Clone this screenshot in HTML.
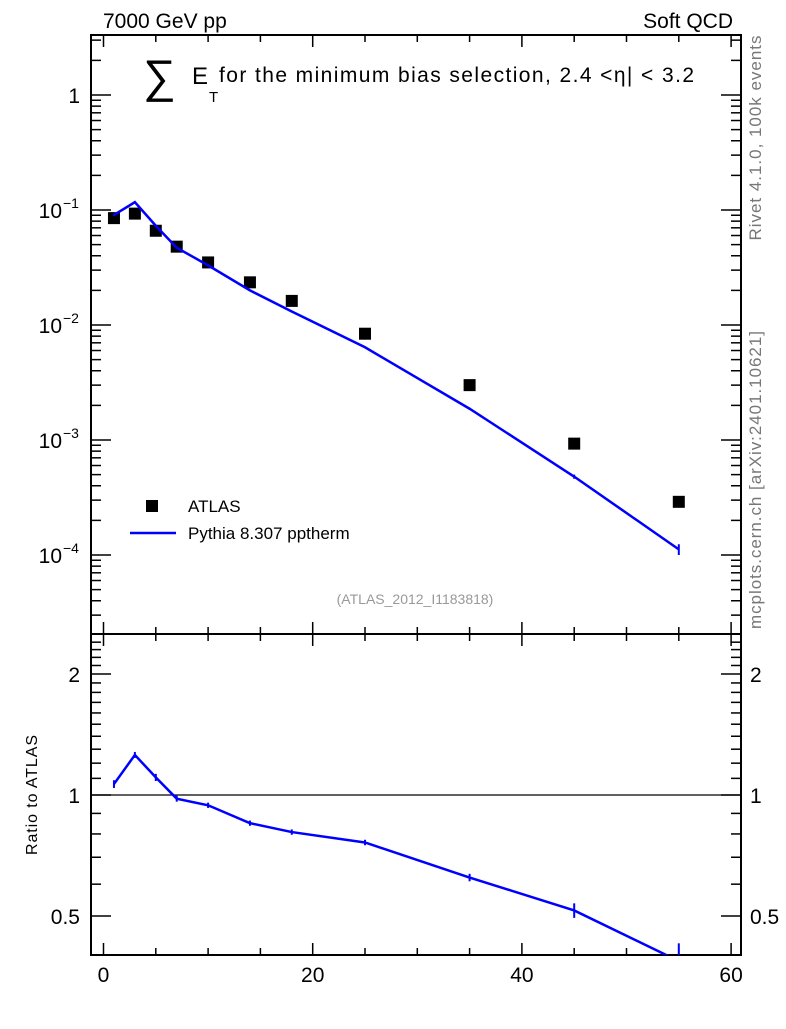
<!DOCTYPE html>
<html><head><meta charset="utf-8"><style>
body{margin:0;background:#fff;}
text{font-family:"Liberation Sans",sans-serif;}
</style></head><body>
<svg id="c" width="786" height="1024" xmlns="http://www.w3.org/2000/svg"></svg>
<script>
const xs=[1,3,5,7,10,14,18,25,35,45,55];
const atlas=[0.085,0.093,0.066,0.048,0.035,0.0235,0.0162,0.0084,0.0030,0.00093,0.00029];
const mc=[0.0905,0.117,0.073,0.047,0.033,0.0200,0.0131,0.0064,0.00187,0.00048,0.000112];
const mcErr=[0.002,0.002,0.0015,0.0008,0.0005,0.0003,0.0002,0.0001,0.00004,0.00002,0.000012];
const mainTicks=[1,0.1,0.01,0.001,0.0001];
const mainTickLabels=["1","10","10","10","10"];
const mainTickExp=["","−1","−2","−3","−4"];
const ratioTicks=[2,1,0.5];
const xTicks=[0,20,40,60];

const svg=document.getElementById('c');
const NS='http://www.w3.org/2000/svg';
function mk(t,a,p){const e=document.createElementNS(NS,t);for(const k in a)e.setAttribute(k,a[k]);(p||svg).appendChild(e);return e;}
const L=91,R=741,T=35,M=634,B=955;
const X=v=>103.5+v*10.46;
const Y=v=>95-Math.log10(v)*115;
const YR=v=>795-Math.log2(v)*121;

let f1=mk('rect',{x:L,y:T,width:R-L,height:M-T,fill:'none',stroke:'#000','stroke-width':2});

let f2=mk('rect',{x:L,y:M,width:R-L,height:B-M,fill:'none',stroke:'#000','stroke-width':2});


for(let v=0;v<=60;v+=5){const maj=v%20===0;const l=maj?12:7;
 for(const yb of [M,B]){mk('line',{x1:X(v),x2:X(v),y1:yb,y2:yb-l,stroke:'#000','stroke-width':1.5});}
 mk('line',{x1:X(v),x2:X(v),y1:T,y2:T+l,stroke:'#000','stroke-width':1.5});
 mk('line',{x1:X(v),x2:X(v),y1:M,y2:M+l,stroke:'#000','stroke-width':1.5});
}
xTicks.forEach(v=>{const t=mk('text',{x:X(v),y:982,'font-size':21,'text-anchor':'middle'});t.textContent=v;
 });

for(let d=-5;d<=0;d++){for(let m=1;m<=9;m++){const v=m*Math.pow(10,d);const y=Y(v);if(y<T||y>M)continue;const l=m===1?20:10;
 mk('line',{x1:L,x2:L+l,y1:y,y2:y,stroke:'#000','stroke-width':1.5});
 mk('line',{x1:R,x2:R-l,y1:y,y2:y,stroke:'#000','stroke-width':1.5});}}
mainTicks.forEach((v,i)=>{const t=mk('text',{x:i===0?80:62,y:Y(v)+8,'font-size':21,'text-anchor':'end'});t.textContent=mainTickLabels[i];
 
 if(mainTickExp[i]){const e=mk('text',{x:63,y:Y(v)-2,'font-size':14});e.textContent=mainTickExp[i];}});

for(let v=0.4;v<=2.5;v+=0.1){const y=YR(v);if(y<M||y>B)continue;const maj=Math.abs(v-0.5)<1e-6||Math.abs(v-1)<1e-6||Math.abs(v-2)<1e-6;const l=maj?20:10;
 mk('line',{x1:L,x2:L+l,y1:y,y2:y,stroke:'#000','stroke-width':1.5});
 mk('line',{x1:R,x2:R-l,y1:y,y2:y,stroke:'#000','stroke-width':1.5});}
ratioTicks.forEach(v=>{const a=mk('text',{x:80,y:YR(v)+8,'font-size':21,'text-anchor':'end'});a.textContent=v;
 
 const b=mk('text',{x:750,y:YR(v)+8,'font-size':21});b.textContent=v;});
mk('line',{x1:L,x2:R,y1:YR(1),y2:YR(1),stroke:'#000','stroke-width':1.2});

xs.forEach((x,i)=>{const r=mk('rect',{x:X(x)-6,y:Y(atlas[i])-6,width:12,height:12,fill:'#000'});
 });
let p=mk('polyline',{points:xs.map((x,i)=>X(x)+','+Y(mc[i])).join(' '),fill:'none',stroke:'#00f','stroke-width':2.5});

xs.forEach((x,i)=>{mk('line',{x1:X(x),x2:X(x),y1:Y(mc[i]+mcErr[i]),y2:Y(mc[i]-mcErr[i]),stroke:'#00f','stroke-width':2});});

const cp=mk('clipPath',{id:'rc'});mk('rect',{x:L,y:M,width:R-L,height:B-M},cp);
const rg=mk('g',{'clip-path':'url(#rc)'});
const ratio=xs.map((x,i)=>mc[i]/atlas[i]);
let rp=mk('polyline',{points:xs.map((x,i)=>X(x)+','+YR(ratio[i])).join(' '),fill:'none',stroke:'#00f','stroke-width':2.5},rg);

xs.forEach((x,i)=>{const e=mcErr[i]/atlas[i];mk('line',{x1:X(x),x2:X(x),y1:YR(ratio[i]+e),y2:YR(ratio[i]-e),stroke:'#00f','stroke-width':2},rg);});

function txt(s,a,name){const t=mk('text',a);t.textContent=s;return t;}
txt('7000 GeV pp',{x:103,y:28,'font-size':21},'energy-label');
txt('Soft QCD',{x:733,y:28,'font-size':21,'text-anchor':'end'},'process-label');
txt('∑',{x:143,y:92,'font-size':46,'font-family':'DejaVu Serif'},'sum-symbol');
txt('E',{x:192,y:84,'font-size':24},'title-e');
txt('T',{x:209,y:102,'font-size':15},'title-t');
txt('for the minimum bias selection, 2.4 <η| < 3.2',{x:219,y:82,'font-size':21,textLength:475},'plot-title');
txt('ATLAS',{x:188,y:512,'font-size':17},'legend-atlas');
mk('rect',{x:146,y:500,width:12,height:12,fill:'#000'});
mk('line',{x1:130,x2:176,y1:533,y2:533,stroke:'#00f','stroke-width':2.5});
txt('Pythia 8.307 pptherm',{x:188,y:539,'font-size':17},'legend-pythia');
txt('(ATLAS_2012_I1183818)',{x:415,y:604,'font-size':14,fill:'#999','text-anchor':'middle'},'analysis-id');
txt('Ratio to ATLAS',{x:0,y:0,'font-size':16,transform:'translate(37,795) rotate(-90)','text-anchor':'middle',textLength:120},'ratio-y-title');
txt('Rivet 4.1.0,  100k events',{x:0,y:0,'font-size':17,fill:'#777',transform:'translate(761,138) rotate(-90)','text-anchor':'middle',textLength:205},'rivet-label');
txt('mcplots.cern.ch [arXiv:2401.10621]',{x:0,y:0,'font-size':17,fill:'#777',transform:'translate(761,480) rotate(-90)','text-anchor':'middle',textLength:298},'mcplots-label');
</script>
</body></html>
